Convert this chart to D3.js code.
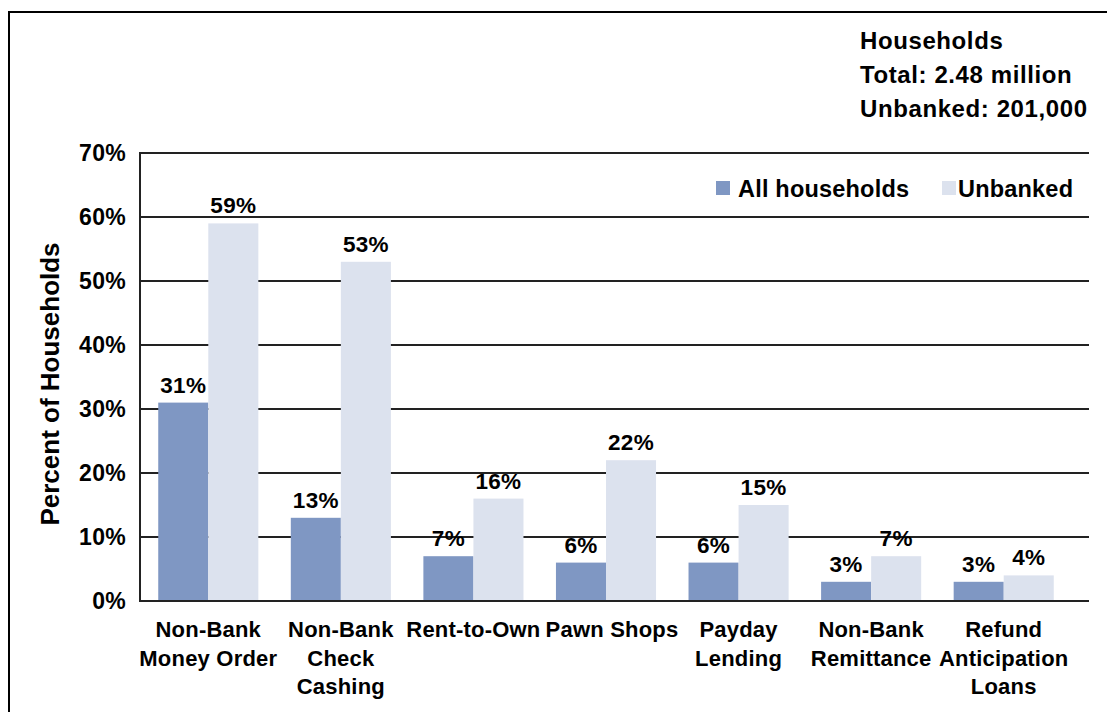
<!DOCTYPE html>
<html>
<head>
<meta charset="utf-8">
<script src="https://cdn.jsdelivr.net/npm/d3@7"></script>
<style>
  html, body { margin: 0; padding: 0; background: #fff; }
  svg { display: block; font-family: "Liberation Sans", Arial, sans-serif; font-weight: bold; }
</style>
</head>
<body>
<svg id="chart" width="1107" height="712"></svg>
<script>
// Alternative financial services used, by household type
const categories = [
  ["Non-Bank", "Money Order"],
  ["Non-Bank", "Check", "Cashing"],
  ["Rent-to-Own"],
  ["Pawn Shops"],
  ["Payday", "Lending"],
  ["Non-Bank", "Remittance"],
  ["Refund", "Anticipation", "Loans"]
];
const seriesNames = ["All households", "Unbanked"];
const allHouseholds = [31, 13, 7, 6, 6, 3, 3];
const unbanked = [59, 53, 16, 22, 15, 7, 4];
const yTicks = [0, 10, 20, 30, 40, 50, 60, 70];
const headerLines = ["Households", "Total: 2.48 million", "Unbanked: 201,000"];
const yTitle = "Percent of Households";

const colors = ["#7f97c3", "#dce2ee"];

const svg = d3.select("#chart");

// Outer frame
svg.append("rect")
  .attr("x", 9).attr("y", 12)
  .attr("width", 1120).attr("height", 740)
  .attr("fill", "none").attr("stroke", "#000").attr("stroke-width", 2);

const plot = { left: 140, right: 1089, top: 153, bottom: 601 };

const y = d3.scaleLinear().domain([0, 70]).range([plot.bottom, plot.top]);

const catKeys = categories.map(c => c.join(" "));
const x0 = d3.scaleBand().domain(catKeys).range([142, 1070])
  .paddingInner(0.245).paddingOuter(0.1225);
const x1 = d3.scaleBand().domain(seriesNames).range([0, x0.bandwidth()]);

// Horizontal gridlines
svg.append("g")
  .selectAll("line")
  .data(yTicks.filter(t => t > 0))
  .join("line")
  .attr("x1", plot.left).attr("x2", plot.right)
  .attr("y1", d => y(d)).attr("y2", d => y(d))
  .attr("stroke", "#222").attr("stroke-width", 2);

// Y axis labels
const yAxis = d3.axisLeft(y).tickValues(yTicks).tickFormat(d => d + "%").tickSize(0).tickPadding(14);
const yAxisG = svg.append("g").attr("transform", `translate(${plot.left},0)`).call(yAxis);
yAxisG.select(".domain").remove();
yAxisG.selectAll("text")
  .attr("font-size", 23).attr("font-weight", "bold")
  .attr("font-family", "Liberation Sans, Arial, sans-serif")
  .attr("letter-spacing", 0.3)
  .attr("fill", "#000");

// Bars
const rows = catKeys.map((k, i) => ({ key: k, values: [allHouseholds[i], unbanked[i]] }));

const groups = svg.append("g").selectAll("g")
  .data(rows)
  .join("g")
  .attr("transform", d => `translate(${x0(d.key)},0)`);

groups.selectAll("rect")
  .data(d => d.values.map((v, j) => ({ name: seriesNames[j], value: v, j })))
  .join("rect")
  .attr("x", d => x1(d.name))
  .attr("y", d => y(d.value))
  .attr("width", x1.bandwidth())
  .attr("height", d => y(0) - y(d.value))
  .attr("fill", d => colors[d.j]);

groups.selectAll("text")
  .data(d => d.values.map((v, j) => ({ name: seriesNames[j], value: v })))
  .join("text")
  .attr("x", d => x1(d.name) + x1.bandwidth() / 2)
  .attr("y", d => y(d.value) - 10)
  .attr("text-anchor", "middle")
  .attr("font-size", 22.5)
  .attr("letter-spacing", 0.3)
  .attr("fill", "#000")
  .text(d => d.value + "%");

// Axis lines
svg.append("line")
  .attr("x1", plot.left).attr("x2", plot.left)
  .attr("y1", plot.top - 1).attr("y2", plot.bottom + 1)
  .attr("stroke", "#222").attr("stroke-width", 2);
svg.append("line")
  .attr("x1", plot.left).attr("x2", plot.right)
  .attr("y1", plot.bottom).attr("y2", plot.bottom)
  .attr("stroke", "#222").attr("stroke-width", 2);

// Category labels
const catLabels = svg.append("g").selectAll("text")
  .data(categories)
  .join("text")
  .attr("text-anchor", "middle")
  .attr("font-size", 22)
  .attr("letter-spacing", 0.2)
  .attr("fill", "#000");
catLabels.each(function(lines, i) {
  const cx = x0(catKeys[i]) + x0.bandwidth() / 2 + (i === 3 ? 6 : 0);
  d3.select(this).selectAll("tspan")
    .data(lines)
    .join("tspan")
    .attr("x", cx)
    .attr("y", (d, k) => 637 + k * 28.5)
    .text(d => d);
});

// Y axis title
svg.append("text")
  .attr("transform", "translate(59,384) rotate(-90)")
  .attr("text-anchor", "middle")
  .attr("font-size", 26)
  .attr("fill", "#000")
  .text(yTitle);

// Header block
svg.append("g").selectAll("text")
  .data(headerLines)
  .join("text")
  .attr("x", 860)
  .attr("y", (d, i) => 49 + i * 34)
  .attr("font-size", 24)
  .attr("letter-spacing", 0.6)
  .attr("fill", "#000")
  .text(d => d);

// Legend
const legendPos = [{ sx: 716, tx: 738 }, { sx: 942, tx: 958 }];
const legend = svg.append("g").selectAll("g")
  .data(seriesNames)
  .join("g");
legend.append("rect")
  .attr("x", (d, i) => legendPos[i].sx)
  .attr("y", 181)
  .attr("width", 14).attr("height", 14)
  .attr("fill", (d, i) => colors[i]);
legend.append("text")
  .attr("x", (d, i) => legendPos[i].tx)
  .attr("y", 197)
  .attr("font-size", 23.5)
  .attr("letter-spacing", 0.2)
  .attr("fill", "#000")
  .text(d => d);
</script>
</body>
</html>
